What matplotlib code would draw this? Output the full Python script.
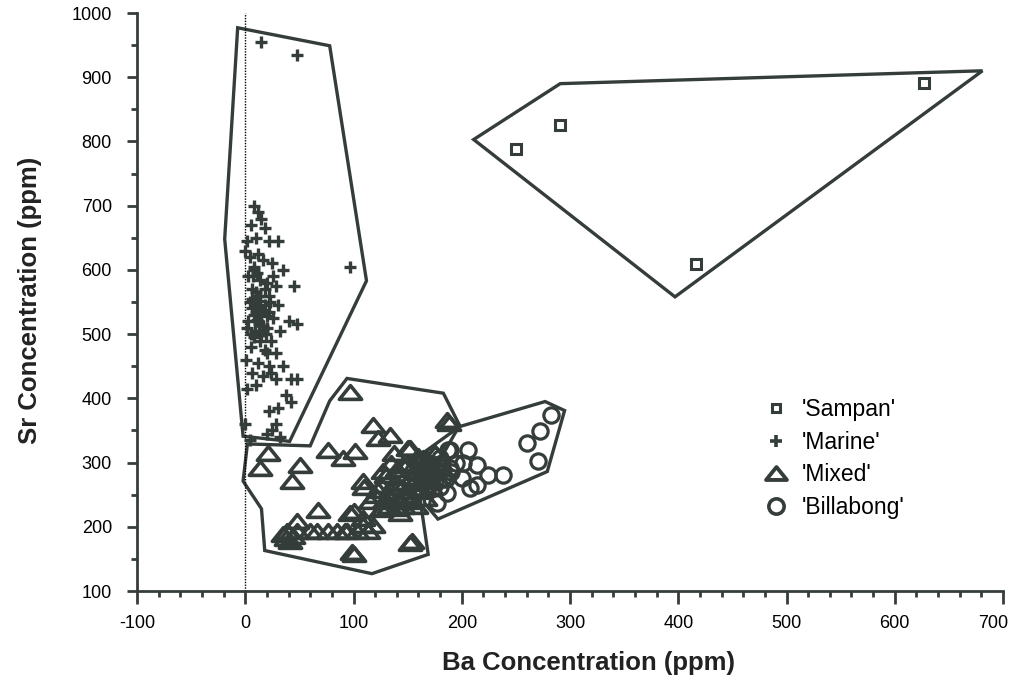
import numpy as np
import matplotlib.pyplot as plt
from matplotlib.patches import Polygon
from matplotlib.lines import Line2D
from matplotlib.path import Path
from matplotlib.transforms import ScaledTranslation

plt.rcParams['font.family'] = ['Liberation Sans', 'DejaVu Sans']
plt.rcParams['axes.unicode_minus'] = False

# Data (Ba ppm, Sr ppm)
sampan_ba = [250, 291, 416, 627]
sampan_sr = [788, 826, 609, 891]

marine_ba = [15, 48, 97,
             8, 12, 15, 5, 18, 10, 2, 22, 30, 0, 12, 16, 25, 8, 35, 3, 14, 20,
             28, 45, 6, 12, 22, 4, 18, 30, 10, 15, 26, 40, 48, 2, 20, 32, 8, 14,
             24, 5, 18, 28, 1, 12, 22, 35, 6, 16, 28, 42, 48, 10, 2, 38, 42, 30,
             22, 28, 25, 0, 4, 32, 20, 8, 12, 16, 20, 24, 6, 10, 3,
             6, 9, 12, 14, 17, 20, 8, 11, 13, 16, 19, 22, 5, 9, 14, 18, 23, 7, 11, 15, 4, 26]
marine_sr = [955, 935, 605,
             700, 690, 680, 670, 665, 650, 645, 645, 645, 630, 625, 615, 610, 605, 600, 590, 585, 580,
             575, 575, 570, 560, 560, 550, 545, 545, 535, 530, 525, 520, 515, 510, 510, 505, 495, 490,
             490, 480, 475, 470, 460, 455, 450, 450, 440, 435, 430, 430, 430, 420, 415, 405, 395, 385,
             380, 360, 350, 360, 335, 340, 345, 600, 520, 505, 470, 440, 540, 565, 520,
             555, 548, 542, 552, 538, 528, 530, 522, 515, 512, 500, 535, 500, 505, 560, 570, 550, 590, 595, 500, 620, 590]

mixed_ba = [97, 188, 118, 123, 134, 21, 14, 51, 43, 76, 90, 101, 67, 137, 150, 186, 100, 99, 154,
            39, 48, 60, 66, 76, 85, 92, 103, 113, 41, 35, 48, 109,
            152, 127, 109, 123, 97, 109, 118, 94, 143, 152, 100,
            125, 130, 135, 138, 140, 142, 145, 148, 150, 152, 155, 157, 160, 162, 165, 166, 168,
            170, 172, 175, 128, 133, 146, 158, 120, 135, 160, 175, 180, 178, 165, 150, 140, 125,
            115, 110, 146, 164, 173, 159, 146, 134, 127, 161, 38, 44]
mixed_sr = [410, 362, 358, 338, 343, 315, 291, 296, 271, 319, 307, 318, 226, 315, 322, 366, 225, 160, 178,
            194, 194, 194, 194, 194, 194, 194, 194, 194, 178, 188, 209, 203,
            322, 287, 271, 257, 222, 214, 203, 194, 222, 175, 157,
            265, 280, 255, 270, 290, 245, 262, 278, 300, 240, 268, 285, 255, 295, 272, 245, 305,
            285, 262, 298, 240, 232, 232, 232, 250, 300, 310, 315, 300, 275, 290, 255, 230, 228,
            240, 262, 296, 307, 291, 276, 250, 245, 229, 260, 183, 185]

billabong_ba = [282, 272, 260, 270, 238, 224, 214, 214, 206, 187, 177, 186, 189, 200, 201, 208,
                180, 183, 173, 173, 161, 164, 155, 152, 189, 170,
                165, 170, 175, 178, 182, 185, 160, 168, 190, 195, 180]
billabong_sr = [374, 349, 330, 302, 281, 281, 265, 296, 319, 319, 237, 252, 291, 276, 299, 260,
                307, 276, 281, 312, 302, 276, 287, 265, 319, 297,
                280, 295, 270, 288, 300, 275, 300, 265, 285, 300, 262]

# Group outlines (Ba, Sr vertices)
sampan_poly = [(211, 803), (291, 890), (681, 910), (397, 558)]
marine_poly = [(-7, 977), (78, 949), (112, 583), (41, 333), (-2, 341), (-19, 648)]
mixed_poly = [(94, 431), (183, 408), (198, 358), (161, 249), (169, 157), (117, 127),
              (18, 163), (15, 228), (-2, 271), (2, 329), (60, 326), (78, 396)]
billabong_poly = [(277, 395), (295, 381), (279, 286), (178, 212), (166, 236), (157, 306), (198, 356)]

ink = '#353d3a'

fig = plt.figure(figsize=(10.15, 6.84), dpi=100)
ax = fig.add_axes([137 / 1015, 1 - 591 / 684, (1003 - 137) / 1015, (591 - 13) / 684])
ax.set_xlim(-100, 700)
ax.set_ylim(100, 1000)

for poly in [sampan_poly, marine_poly, mixed_poly, billabong_poly]:
    ax.add_patch(Polygon(poly, closed=True, fill=False, edgecolor=ink, lw=2.4, joinstyle='miter'))

ax.axvline(0, color='black', lw=1.0, ls=(0, (1, 1)), zorder=1)

tri = Path([(0, 0.62), (-1, -0.62), (1, -0.62), (0, 0.62)],
           [Path.MOVETO, Path.LINETO, Path.LINETO, Path.CLOSEPOLY])

ax.plot(sampan_ba, sampan_sr, ls='none', marker='s', ms=7, mfc='white', mec=ink, mew=2.2)
ax.plot(marine_ba, marine_sr, ls='none', marker='+', ms=9, mec=ink, mew=2.4)
ax.plot(mixed_ba, mixed_sr, ls='none', marker=tri, ms=16, mfc='none', mec=ink, mew=2.6)
ax.plot(billabong_ba, billabong_sr, ls='none', marker='o', ms=11, mfc='none', mec=ink, mew=2.3)

# legend
handles = [
    Line2D([], [], ls='none', marker='s', ms=6, mfc='white', mec=ink, mew=2.2),
    Line2D([], [], ls='none', marker='+', ms=9, mec=ink, mew=2.6),
    Line2D([], [], ls='none', marker=tri, ms=15, mfc='none', mec=ink, mew=2.8),
    Line2D([], [], ls='none', marker='o', ms=11, mfc='none', mec=ink, mew=2.6),
]
labels = ["'Sampan'", "'Marine'", "'Mixed'", "'Billabong'"]
ax.legend(handles, labels, frameon=False, fontsize=16.5, loc='upper left',
          bbox_to_anchor=((762 - 137) / 866, 1 - (398 - 13) / 578),
          handletextpad=0.55, labelspacing=0.42, borderaxespad=0, borderpad=0,
          handlelength=1.2)

# axes styling
for s in ['top', 'right']:
    ax.spines[s].set_visible(False)
for s in ['left', 'bottom']:
    ax.spines[s].set_linewidth(2.0)
    ax.spines[s].set_color(ink)

ax.set_xticks(np.arange(-100, 701, 100))
ax.set_xticks(np.arange(-100, 701, 20), minor=True)
ax.set_yticks(np.arange(100, 1001, 100))
ax.set_yticks(np.arange(100, 1001, 50), minor=True)
ax.tick_params(axis='both', which='major', direction='out', length=7, width=2, color=ink,
               labelsize=13, pad=6)
ax.tick_params(axis='both', which='minor', direction='out', length=4, width=2, color=ink)
ax.tick_params(axis='x', which='major', length=9, pad=8)
ax.tick_params(axis='y', which='major', pad=11)

# last x label sits a little left of its tick in the original
last = ax.get_xticklabels()[-1]
last.set_transform(last.get_transform() + ScaledTranslation(-10 / 100, 0, fig.dpi_scale_trans))

fig.text(588 / 1015, 1 - 663 / 684, 'Ba Concentration (ppm)', ha='center', va='center',
         fontsize=18.5, fontweight='bold', color='#222222')
fig.text(30 / 1015, 1 - 300 / 684, 'Sr Concentration (ppm)', ha='center', va='center',
         rotation=90, fontsize=18.5, fontweight='bold', color='#222222')

fig.savefig('out.png', dpi=100)
